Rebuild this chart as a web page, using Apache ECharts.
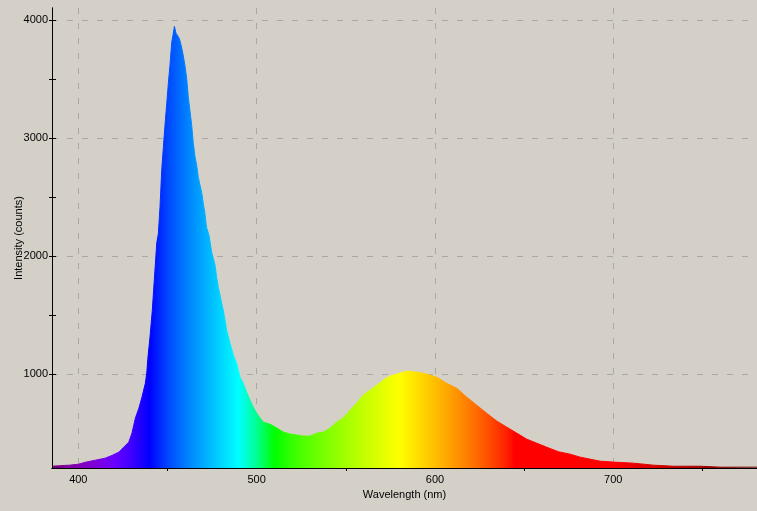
<!DOCTYPE html>
<html><head><meta charset="utf-8">
<script src="https://cdn.jsdelivr.net/npm/echarts@6/dist/echarts.min.js"></script>
<style>html,body{margin:0;padding:0;background:#d4d0c8;}#c{width:757px;height:511px;}</style>
</head><body><div id="c"></div>
<script>
const wavelengths = [385.25, 390, 395, 400, 404, 409.5, 415, 419, 422.7, 425.5, 428.3, 430.1, 432, 434, 435.7, 437.6, 438.4, 439, 440.2, 441.5, 442.6, 444, 444.9, 445.8, 446.8, 447.7, 448.6, 449.6, 450.5, 451.4, 452.4, 453.3, 453.9, 454.8, 455.7, 456.6, 457.4, 458.5, 459.8, 460.8, 461.7, 462.6, 463.6, 464.5, 465.5, 466.4, 467.3, 468.3, 469.2, 470.1, 471, 471.9, 473.3, 474.8, 476.7, 477.6, 478.5, 479.5, 480.4, 481.3, 482.3, 483.2, 485.1, 487, 488.8, 490.7, 492.5, 494.4, 496.3, 498.1, 500, 502, 503.8, 507.5, 511.3, 515, 518.7, 522.5, 526.2, 530, 533.7, 537.4, 541.2, 543, 544.9, 548.6, 552.4, 556.1, 559.8, 563.6, 567.3, 571, 574.8, 578.6, 584.2, 589.8, 595.4, 601, 606.6, 612.2, 617.8, 623.4, 629, 634.7, 640.3, 645.9, 651.5, 657.1, 662.7, 669.2, 675.8, 681.4, 687, 692.6, 700, 711.3, 722.5, 733.7, 748.7, 760, 780.6];
const counts = [220, 225, 229, 237, 254, 271, 288, 312, 339, 382, 424, 500, 627, 712, 805, 922, 1010, 1133, 1313, 1540, 1795, 2110, 2190, 2410, 2733, 2920, 3105, 3292, 3462, 3614, 3810, 3886, 3945, 3886, 3870, 3843, 3800, 3725, 3614, 3500, 3343, 3233, 3105, 2953, 2835, 2767, 2665, 2597, 2538, 2445, 2360, 2243, 2175, 2032, 1922, 1820, 1736, 1668, 1600, 1540, 1456, 1371, 1261, 1159, 1091, 973, 922, 846, 780, 720, 669, 627, 593, 576, 543, 509, 492, 484, 475, 475, 500, 509, 543, 568, 593, 630, 695, 754, 822, 864, 906, 949, 983, 1000, 1025, 1017, 1000, 973, 922, 881, 805, 737, 669, 602, 551, 500, 449, 415, 381, 343, 322, 297, 280, 263, 255, 246, 229, 220, 220, 212, 212];
const xLabelValues = [400, 500, 600, 700];
const xMinorTickValues = [450, 550, 650, 750];
const yLabelValues = [1000, 2000, 3000, 4000];
const yMinorTickValues = [1500, 2500, 3500];
const yAllTickValues = [1000, 1500, 2000, 2500, 3000, 3500, 4000];
const colorStopWavelengths = [385, 390, 400, 410, 420, 430, 440, 450, 460, 470, 480, 490, 500, 510, 520, 530, 540, 550, 560, 570, 580, 590, 600, 610, 620, 630, 640, 645, 660, 680, 700, 720, 740, 760, 780.6];

const X_MIN = 385.25, X_MAX = 780.6, Y_MIN = 205, Y_MAX = 4100;

function spectrumColor(w) {
  let r = 0, g = 0, b = 0;
  if (w < 440) { r = (440 - w) / 60; b = 1; }
  else if (w < 490) { g = (w - 440) / 50; b = 1; }
  else if (w < 510) { g = 1; b = (510 - w) / 20; }
  else if (w < 580) { r = (w - 510) / 70; g = 1; }
  else if (w < 645) { r = 1; g = (645 - w) / 65; }
  else { r = 1; }
  let f = 1;
  if (w < 420) f = 0.3 + 0.7 * (w - 380) / 40;
  else if (w > 700) f = 0.3 + 0.7 * (780 - w) / 80;
  const c = v => Math.round(255 * Math.pow(Math.max(0, Math.min(1, v * f)), 0.8));
  return 'rgb(' + c(r) + ',' + c(g) + ',' + c(b) + ')';
}
const w0 = wavelengths[0], w1 = wavelengths[wavelengths.length - 1];
const stops = colorStopWavelengths.map(w => ({
  offset: Math.max(0, Math.min(1, (w - w0) / (w1 - w0))),
  color: spectrumColor(w)
}));
const grad = { type: 'linear', x: 0, y: 0, x2: 1, y2: 0, colorStops: stops };

const FONT = "'Liberation Sans', Arial, sans-serif";
const txt = { color: '#000', fontFamily: FONT, fontSize: 11 };
const dash = { color: '#a8a8a8', type: [6, 9], width: 1 };
const blackLine = { show: true, lineStyle: { color: '#000', width: 1 } };
const plain = v => String(Math.round(v));

const chart = echarts.init(document.getElementById('c'), null, { renderer: 'canvas' });
chart.setOption({
  backgroundColor: '#d4d0c8',
  animation: false,
  grid: { left: 52, right: 0, top: 8, bottom: 43, containLabel: false, outerBoundsMode: 'none' },
  xAxis: [
    {
      type: 'value', min: X_MIN, max: X_MAX, position: 'bottom',
      axisLine: blackLine,
      axisTick: { show: true, customValues: xLabelValues, inside: true, length: 4, lineStyle: { color: '#000' } },
      axisLabel: Object.assign({ customValues: xLabelValues, margin: 6, formatter: plain }, txt),
      splitLine: { show: true, lineStyle: dash },
      name: 'Wavelength (nm)', nameLocation: 'middle', nameGap: 21, nameMoveOverlap: false, nameTextStyle: txt
    },
    {
      type: 'value', min: X_MIN, max: X_MAX, position: 'bottom', offset: 0, z: 5,
      axisLine: blackLine,
      axisTick: { show: true, customValues: xMinorTickValues, length: 3, lineStyle: { color: '#000' } },
      axisLabel: { show: false },
      splitLine: { show: false }
    }
  ],
  yAxis: [
    {
      type: 'value', min: Y_MIN, max: Y_MAX, position: 'left',
      axisLine: blackLine,
      axisTick: { show: true, customValues: yLabelValues, length: 3, lineStyle: { color: '#000' } },
      axisLabel: Object.assign({ customValues: yLabelValues, margin: 4, formatter: plain }, txt),
      splitLine: { show: true, lineStyle: dash },
      name: 'Intensity (counts)', nameLocation: 'middle', nameGap: 28, nameMoveOverlap: false, nameTextStyle: txt
    },
    {
      type: 'value', min: Y_MIN, max: Y_MAX, position: 'left', offset: 0, z: 5,
      axisLine: blackLine,
      axisTick: { show: true, customValues: yAllTickValues, inside: true, length: 4, lineStyle: { color: '#000' } },
      axisLabel: { show: false },
      splitLine: { show: false }
    },
    {
      type: 'value', min: Y_MIN, max: Y_MAX, position: 'left', offset: 0, z: 5,
      axisLine: { show: false },
      axisTick: { show: true, customValues: yMinorTickValues, length: 3, lineStyle: { color: '#000' } },
      axisLabel: { show: false },
      splitLine: { show: false }
    }
  ],
  series: [{
    type: 'line',
    xAxisIndex: 0, yAxisIndex: 0,
    data: wavelengths.map((w, i) => [w, counts[i]]),
    showSymbol: false,
    symbol: 'none',
    lineStyle: { width: 1, color: grad },
    areaStyle: { color: grad, opacity: 1 },
    z: 2
  }]
});
</script></body></html>
